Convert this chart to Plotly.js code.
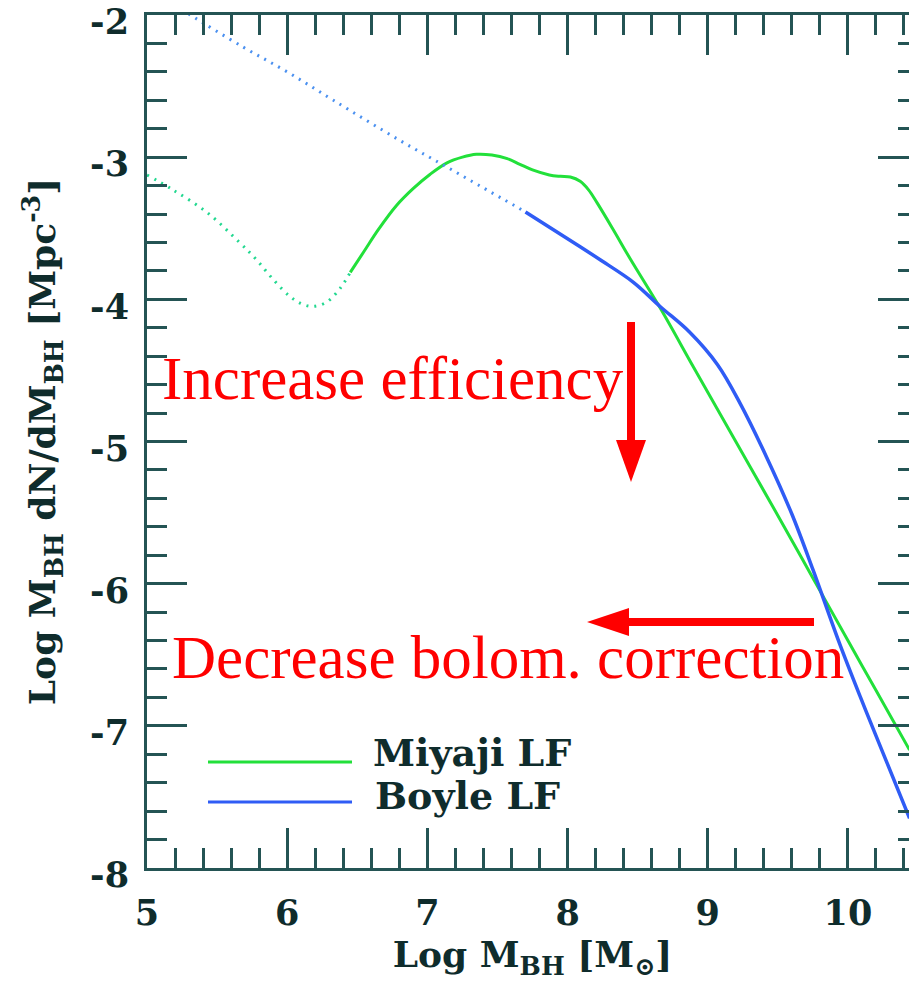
<!DOCTYPE html>
<html><head><meta charset="utf-8">
<script src="https://cdn.plot.ly/plotly-3.0.1.min.js"></script>
<style>html,body{margin:0;padding:0;overflow:hidden;background:#fff;width:909px;height:988px}</style>
</head><body><div id="chart" style="width:920px;height:988px"></div>
<script>
// Miyaji LF (green): dotted low-mass part, solid part
const miyajiDotX = [5.00, 5.185, 5.43, 5.66, 5.78, 5.90, 6.02, 6.10, 6.18, 6.28, 6.38, 6.45];
const miyajiDotY = [-3.125, -3.23, -3.39, -3.60, -3.72, -3.86, -3.98, -4.03, -4.05, -4.02, -3.92, -3.81];
const miyajiX = [6.45, 6.55, 6.65, 6.78, 6.90, 7.02, 7.14, 7.25, 7.35, 7.46, 7.57, 7.66, 7.75, 7.87, 7.95, 8.02, 8.09, 8.15, 8.21, 8.32, 8.45, 8.66, 8.90, 9.20, 9.50, 9.75, 10.00, 10.20, 10.44];
const miyajiY = [-3.81, -3.66, -3.51, -3.34, -3.22, -3.12, -3.04, -3.00, -2.98, -2.985, -3.01, -3.05, -3.09, -3.125, -3.135, -3.14, -3.17, -3.23, -3.32, -3.50, -3.72, -4.06, -4.48, -5.00, -5.52, -5.96, -6.40, -6.75, -7.17];
// Boyle LF (blue): dotted extrapolation, solid part
const boyleDotX = [5.25, 5.31, 5.685, 6.00, 6.33, 6.80, 7.14, 7.70];
const boyleDotY = [-1.96, -2.00, -2.225, -2.40, -2.60, -2.88, -3.07, -3.385];
const boyleX = [7.70, 8.09, 8.23, 8.47, 8.66, 8.87, 9.07, 9.23, 9.42, 9.60, 9.75, 9.94, 10.09, 10.25, 10.44];
const boyleY = [-3.385, -3.63, -3.72, -3.88, -4.05, -4.23, -4.46, -4.73, -5.11, -5.51, -5.90, -6.42, -6.80, -7.19, -7.65];

const seriesNames = ["Miyaji LF", "Boyle LF"];
const xTickVals = [5, 6, 7, 8, 9, 10];
const xTickText = ["5", "6", "7", "8", "9", "10"];
const yTickVals = [-2, -3, -4, -5, -6, -7, -8];
const yTickText = ["-2", "-3", "-4", "-5", "-6", "-7", "-8"];

const GREEN = "#22e03a";
const BLUE = "#2f5cf5";
const BLUE_DOT = "#4a90f0";
const GREEN_DOT = "#22d890";
const AX = "#245454";
const TXT = "#0f2c2c";
const RED = "#ff0000";

const traces = [
  {x: miyajiDotX, y: miyajiDotY, mode: "lines", line: {color: GREEN_DOT, width: 3, dash: "2px,6px", shape: "spline"}, showlegend: false, hoverinfo: "skip"},
  {x: miyajiX, y: miyajiY, mode: "lines", name: seriesNames[0], line: {color: GREEN, width: 3, shape: "spline"}, showlegend: false},
  {x: boyleDotX, y: boyleDotY, mode: "lines", line: {color: BLUE_DOT, width: 3, dash: "2px,6px", shape: "spline"}, showlegend: false, hoverinfo: "skip"},
  {x: boyleX, y: boyleY, mode: "lines", name: seriesNames[1], line: {color: BLUE, width: 3.5, shape: "spline"}, showlegend: false}
];

const W = 920, H = 988, ML = 147, MR = 2, MT = 15, MB = 120;
const PW = W - ML - MR, PH = H - MT - MB;
const px = v => (v - ML) / PW;       // page x -> paper
const py = v => (H - MB - v) / PH;   // page y -> paper

const tickFont = {family: "DejaVu Serif", size: 35, weight: "bold", color: TXT};
const axisCommon = {
  showgrid: false, zeroline: false, showline: true, linecolor: AX, linewidth: 3,
  ticks: "inside", ticklen: 40, tickwidth: 3, tickcolor: AX, mirror: "allticks",
  tickmode: "array", tickfont: tickFont, ticklabeloverflow: "allow", automargin: false,
  minor: {tickmode: "linear", tick0: 0, dtick: 0.2, ticks: "inside", ticklen: 20, tickwidth: 3, tickcolor: AX}
};

const layout = {
  width: W, height: H,
  margin: {l: ML, r: MR, t: MT, b: MB},
  paper_bgcolor: "#fff", plot_bgcolor: "#fff",
  showlegend: false,
  xaxis: Object.assign({}, axisCommon, {
    range: [5, 10.5], tickvals: xTickVals, ticktext: xTickText, ticklabelstandoff: 12,
    title: {text: "Log M<sub>BH</sub> [M<sub>⊙</sub>]", font: {family: "DejaVu Serif", size: 36, weight: "bold", color: TXT}, standoff: 6}
  }),
  yaxis: Object.assign({}, axisCommon, {
    range: [-8, -2], tickvals: yTickVals, ticktext: yTickText, ticklabelstandoff: 8, ticklabelshift: 7,
    title: {text: "Log M<sub>BH</sub> dN/dM<sub>BH</sub> [Mpc<sup>-3</sup>]", font: {family: "DejaVu Serif", size: 36, weight: "bold", color: TXT}, standoff: 24}
  }),
  shapes: [
    // legend samples
    {type: "line", xref: "paper", yref: "paper", x0: px(208), x1: px(352), y0: py(762), y1: py(762), line: {color: GREEN, width: 3}},
    {type: "line", xref: "paper", yref: "paper", x0: px(208), x1: px(352), y0: py(802), y1: py(802), line: {color: BLUE, width: 3}},
    // vertical arrow (increase efficiency)
    {type: "line", xref: "paper", yref: "paper", x0: px(631), x1: px(631), y0: py(322), y1: py(442), line: {color: RED, width: 8}},
    {type: "path", xref: "paper", yref: "paper", fillcolor: RED, line: {width: 0},
     path: `M ${px(616)} ${py(440)} L ${px(646)} ${py(440)} L ${px(631)} ${py(482)} Z`},
    // horizontal arrow (decrease bolometric correction)
    {type: "line", xref: "paper", yref: "paper", x0: px(814), x1: px(627), y0: py(622), y1: py(622), line: {color: RED, width: 8}},
    {type: "path", xref: "paper", yref: "paper", fillcolor: RED, line: {width: 0},
     path: `M ${px(629)} ${py(608)} L ${px(629)} ${py(636)} L ${px(587)} ${py(622)} Z`}
  ],
  annotations: [
    {xref: "paper", yref: "paper", x: px(160), y: py(378), xanchor: "left", yanchor: "middle", showarrow: false,
     text: "Increase efficiency", font: {family: "Liberation Serif", size: 61, color: RED}},
    {xref: "paper", yref: "paper", x: px(170), y: py(657), xanchor: "left", yanchor: "middle", showarrow: false,
     text: "Decrease bolom. correction", font: {family: "Liberation Serif", size: 61, color: RED}},
    {xref: "paper", yref: "paper", x: px(371), y: py(752), xanchor: "left", yanchor: "middle", showarrow: false,
     text: seriesNames[0], font: {family: "DejaVu Serif", size: 38, weight: "bold", color: TXT}},
    {xref: "paper", yref: "paper", x: px(373), y: py(795), xanchor: "left", yanchor: "middle", showarrow: false,
     text: seriesNames[1], font: {family: "DejaVu Serif", size: 38, weight: "bold", color: TXT}}
  ]
};

Plotly.newPlot("chart", traces, layout, {displayModeBar: false, staticPlot: true});
</script>
</body></html>
